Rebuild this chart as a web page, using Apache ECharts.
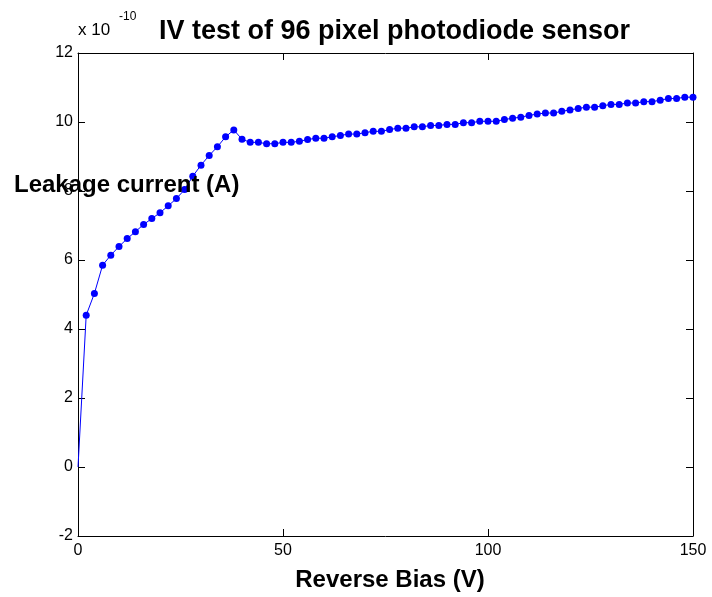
<!DOCTYPE html>
<html>
<head>
<meta charset="utf-8">
<script src="https://cdn.jsdelivr.net/npm/echarts@6/dist/echarts.min.js"></script>
<style>
  html, body { margin: 0; padding: 0; background: #fff; }
  #chart { width: 712px; height: 597px; }
</style>
</head>
<body>
<div id="chart"></div>
<script>
// Reverse bias sweep (V), 2 V steps
const biasVolts = [
  0, 2, 4, 6, 8, 10, 12, 14, 16, 18, 20, 22, 24, 26, 28, 30, 32, 34, 36, 38,
  40, 42, 44, 46, 48, 50, 52, 54, 56, 58, 60, 62, 64, 66, 68, 70, 72, 74, 76, 78,
  80, 82, 84, 86, 88, 90, 92, 94, 96, 98, 100, 102, 104, 106, 108, 110, 112, 114, 116, 118,
  120, 122, 124, 126, 128, 130, 132, 134, 136, 138, 140, 142, 144, 146, 148, 150
];
// Leakage current, in units of 1e-10 A
const leakageE10 = [
  0, 4.40, 5.03, 5.85, 6.14, 6.39, 6.62, 6.82, 7.03, 7.20, 7.37, 7.57, 7.78, 8.04, 8.43, 8.75, 9.03, 9.28, 9.57, 9.77,
  9.50, 9.41, 9.41, 9.37, 9.37, 9.41, 9.41, 9.44, 9.49, 9.53, 9.53, 9.57, 9.61, 9.65, 9.65, 9.69, 9.73, 9.73, 9.78, 9.82,
  9.82, 9.86, 9.86, 9.90, 9.90, 9.93, 9.93, 9.98, 9.98, 10.02, 10.02, 10.02, 10.07, 10.11, 10.14, 10.19, 10.23, 10.26, 10.26, 10.31,
  10.35, 10.39, 10.43, 10.43, 10.47, 10.51, 10.51, 10.55, 10.55, 10.59, 10.59, 10.63, 10.68, 10.68, 10.72, 10.72
];
const xTicks = { min: 0, max: 150, step: 50 };
const yTicks = { min: -2, max: 12, step: 2 };

const chartTitle = 'IV test of 96 pixel photodiode sensor';
const xLabel = 'Reverse Bias (V)';
const yLabel = 'Leakage current (A)';
const scaleBase = 'x 10';
const scaleExp = '-10';

const FONT = 'Liberation Sans, Arial, Helvetica, sans-serif';

// first sample sits at the origin and is drawn without a marker
const seriesData = biasVolts.map((v, i) =>
  i === 0 ? { value: [v, leakageE10[i]], symbol: 'none' } : [v, leakageE10[i]]
);

const axisLine = { show: true, onZero: false, lineStyle: { color: '#000', width: 1 } };
const axisTick = { show: true, inside: true, length: 7, lineStyle: { color: '#000', width: 1 } };
const tickLabel = { color: '#000', fontFamily: FONT, fontSize: 16 };

const chart = echarts.init(document.getElementById('chart'), null, { renderer: 'canvas' });
chart.setOption({
  backgroundColor: '#fff',
  animation: false,
  title: {
    text: chartTitle,
    left: 154, top: 13,
    textStyle: { fontFamily: FONT, fontWeight: 'bold', fontSize: 27, color: '#000' }
  },
  grid: { left: 78, right: 19, top: 53, bottom: 60, containLabel: false },
  xAxis: [
    {
      type: 'value', position: 'bottom',
      min: xTicks.min, max: xTicks.max, interval: xTicks.step,
      axisLine, axisTick, splitLine: { show: false },
      axisLabel: Object.assign({ margin: 7 }, tickLabel),
      name: xLabel, nameLocation: 'middle', nameGap: 32,
      nameTextStyle: {
        fontFamily: FONT, fontWeight: 'bold', fontSize: 24, color: '#000',
        padding: [0, 0, 0, 9]
      }
    },
    {
      type: 'value', position: 'top',
      min: xTicks.min, max: xTicks.max, interval: xTicks.step,
      axisLine, axisTick, splitLine: { show: false }, axisLabel: { show: false }
    }
  ],
  yAxis: [
    {
      type: 'value', position: 'left',
      min: yTicks.min, max: yTicks.max, interval: yTicks.step,
      axisLine, axisTick, splitLine: { show: false },
      axisLabel: Object.assign({ margin: 5 }, tickLabel)
    },
    {
      type: 'value', position: 'right',
      min: yTicks.min, max: yTicks.max, interval: yTicks.step,
      axisLine, axisTick, splitLine: { show: false }, axisLabel: { show: false }
    }
  ],
  graphic: [
    {
      type: 'text', left: 78, top: 22,
      style: { text: scaleBase, fontFamily: FONT, fontSize: 17, fill: '#000' }
    },
    {
      type: 'text', left: 119, top: 11,
      style: { text: scaleExp, fontFamily: FONT, fontSize: 12, fill: '#000' }
    },
    {
      type: 'text', left: 14, top: 173, z: 10,
      style: { text: yLabel, fontFamily: FONT, fontWeight: 'bold', fontSize: 24, fill: '#000' }
    }
  ],
  series: [{
    type: 'line',
    data: seriesData,
    symbol: 'circle',
    symbolSize: 7,
    showSymbol: true,
    clip: false,
    lineStyle: { color: '#0000ff', width: 1 },
    itemStyle: { color: '#0000ff' }
  }]
});
</script>
</body>
</html>
